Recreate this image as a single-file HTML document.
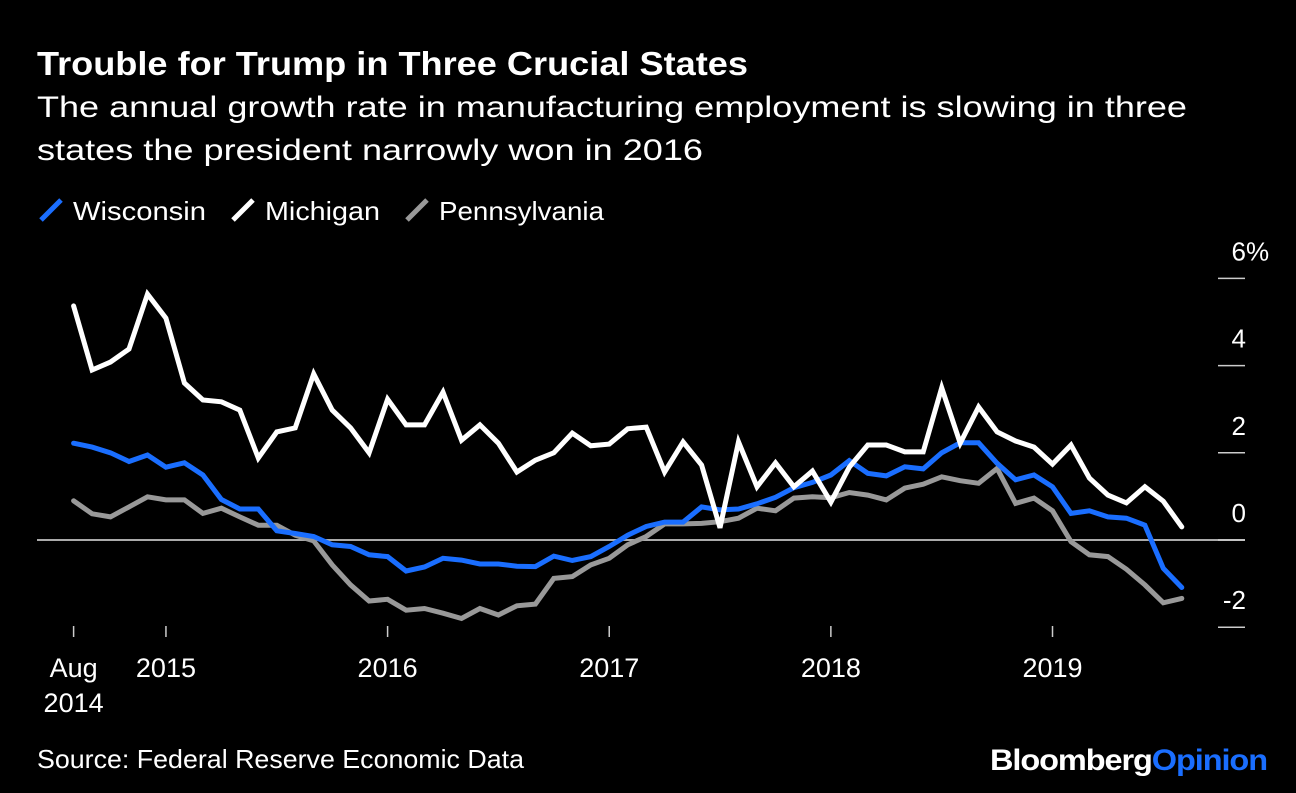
<!DOCTYPE html>
<html><head><meta charset="utf-8"><style>
body{margin:0;background:#000;width:1296px;height:788px;overflow:hidden;font-family:"Liberation Sans",sans-serif;color:#fff}
</style></head><body>
<svg width="1296" height="788" xmlns="http://www.w3.org/2000/svg" style="font-family:'Liberation Sans',sans-serif">
<rect width="1296" height="788" fill="#000"/>
<text x="37" y="75" font-size="33" font-weight="bold" fill="#fff" textLength="711" lengthAdjust="spacingAndGlyphs">Trouble for Trump in Three Crucial States</text>
<text x="37" y="117" font-size="30" fill="#fff" textLength="1150" lengthAdjust="spacingAndGlyphs">The annual growth rate in manufacturing employment is slowing in three</text>
<text x="37" y="160" font-size="30" fill="#fff" textLength="666" lengthAdjust="spacingAndGlyphs">states the president narrowly won in 2016</text>
<g font-size="26" fill="#fff">
<line x1="41" y1="220" x2="61" y2="200" stroke="#1a6eff" stroke-width="5"/>
<text x="73" y="220" textLength="133" lengthAdjust="spacingAndGlyphs">Wisconsin</text>
<line x1="233" y1="220" x2="253" y2="200" stroke="#fff" stroke-width="5"/>
<text x="265" y="220" textLength="115" lengthAdjust="spacingAndGlyphs">Michigan</text>
<line x1="407" y1="220" x2="427" y2="200" stroke="#999" stroke-width="5"/>
<text x="439" y="220" textLength="165" lengthAdjust="spacingAndGlyphs">Pennsylvania</text>
</g>
<g id="axes"></g>
<g id="series"></g>
<text x="37" y="768" font-size="26" fill="#fff" textLength="487" lengthAdjust="spacingAndGlyphs">Source: Federal Reserve Economic Data</text>
<text x="990" y="770" font-size="30" font-weight="bold" textLength="277" lengthAdjust="spacingAndGlyphs" letter-spacing="-1"><tspan fill="#fff">Bloomberg</tspan><tspan fill="#1a6eff">Opinion</tspan></text>
</svg>
<script>
const michigan=[5.37,3.9,4.08,4.38,5.64,5.09,3.6,3.21,3.17,2.98,1.88,2.48,2.57,3.81,2.98,2.57,2.0,3.23,2.64,2.64,3.39,2.29,2.64,2.22,1.56,1.83,2.0,2.45,2.16,2.2,2.55,2.59,1.56,2.25,1.72,0.28,2.25,1.22,1.77,1.22,1.58,0.87,1.67,2.18,2.18,2.02,2.02,3.49,2.22,3.05,2.48,2.27,2.13,1.74,2.18,1.42,1.03,0.85,1.22,0.89,0.3];
const wisconsin=[2.22,2.13,2.0,1.8,1.95,1.67,1.77,1.49,0.93,0.71,0.71,0.21,0.15,0.08,-0.11,-0.15,-0.34,-0.38,-0.71,-0.62,-0.42,-0.46,-0.55,-0.55,-0.6,-0.61,-0.37,-0.47,-0.38,-0.15,0.11,0.31,0.41,0.41,0.76,0.69,0.71,0.83,0.98,1.2,1.32,1.49,1.82,1.53,1.47,1.68,1.63,2.0,2.23,2.23,1.76,1.38,1.49,1.22,0.61,0.67,0.53,0.5,0.34,-0.65,-1.09];
const pennsylvania=[0.9,0.6,0.53,0.76,0.99,0.92,0.92,0.61,0.73,0.53,0.34,0.34,0.11,-0.02,-0.57,-1.03,-1.4,-1.36,-1.61,-1.57,-1.68,-1.8,-1.57,-1.72,-1.51,-1.47,-0.88,-0.84,-0.57,-0.42,-0.11,0.08,0.37,0.37,0.38,0.42,0.5,0.73,0.67,0.96,0.99,0.97,1.09,1.03,0.92,1.19,1.28,1.45,1.36,1.3,1.64,0.84,0.96,0.67,-0.04,-0.34,-0.38,-0.67,-1.03,-1.44,-1.34];
const yTicks=[6,4,2,0,-2];
const yTickLabels=["6","4","2","0","-2"];
const xTickMonths=[0,5,17,29,41,53];
const xTickLabels=[["Aug","2014"],["2015"],["2016"],["2017"],["2018"],["2019"]];
const NS="http://www.w3.org/2000/svg";
function xs(i){return 73.6+i*18.47;}
function ys(v){return 540-v*43.6;}
function mk(tag,attrs,parent){const e=document.createElementNS(NS,tag);for(const k in attrs)e.setAttribute(k,attrs[k]);parent.appendChild(e);return e;}
const ax=document.getElementById('axes');
const zl=mk('line',{x1:37,x2:1245,y1:ys(0),y2:ys(0),stroke:'#aaa','stroke-width':2},ax);


yTicks.forEach((v,k)=>{
  const t=mk('line',{x1:1218,x2:1245,y1:ys(v),y2:ys(v),stroke:'#ccc','stroke-width':1.5},ax);
  
  
  const l=mk('text',{x:1246,y:ys(v)-18,'font-size':26,fill:'#fff','text-anchor':'end'},ax);
  l.textContent=yTickLabels[k];
  
  
  if(k===0){
    const p=mk('text',{x:1246,y:ys(v)-18,'font-size':26,fill:'#fff'},ax);
    p.textContent='%';
    
    
  }
});
xTickMonths.forEach((m,k)=>{
  const x=xs(m);
  const t=mk('line',{x1:x,x2:x,y1:626,y2:637,stroke:'#ccc','stroke-width':1.5},ax);
  
  
  xTickLabels[k].forEach((s,j)=>{
    const l=mk('text',{x:x,y:677+j*35,'font-size':27,fill:'#fff','text-anchor':'middle'},ax);
    l.textContent=s;
    
    
  });
});
const sg=document.getElementById('series');
[[pennsylvania,'#999','line-pennsylvania'],[wisconsin,'#1a6eff','line-wisconsin'],[michigan,'#fff','line-michigan']].forEach(([d,c,n])=>{
  const p=mk('polyline',{points:d.map((v,i)=>xs(i).toFixed(1)+','+ys(v).toFixed(1)).join(' '),fill:'none',stroke:c,'stroke-width':5,'stroke-linejoin':'miter','stroke-linecap':'round'},sg);
  
  
});
</script>
</body></html>
